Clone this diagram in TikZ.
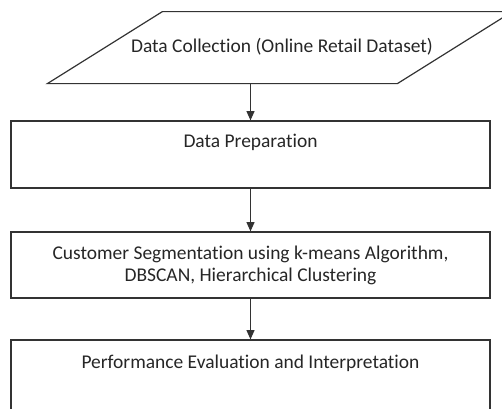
\documentclass[tikz,border=0pt]{standalone}
\usepackage{fontspec}
\setmainfont{Carlito}[Ligatures={NoCommon}]
\usetikzlibrary{positioning,arrows.meta}

\begin{document}
\begin{tikzpicture}[x=0.75pt, y=-0.75pt, >={Triangle[length=7pt,width=6pt]},
  line/.style={draw=black!80, line width=0.9pt},
  stage/.style={line, rectangle, align=center, minimum width=359.25pt,
    text=black!85, font=\fontsize{14.6}{16.5}\selectfont}]

\clip[use as bounding box] (0,0) rectangle (502,408);

% input data (parallelogram drawn round the node)
\node [stage, draw=none, minimum width=262.5pt, minimum height=54pt] (collect) at (282,47)
  {Data Collection (Online Retail Dataset)};
\draw [line] (collect.south west) ++(-59,0) -- ++(350,0) -- ++(115,-72) -- ++(-350,0) -- cycle;

\node [stage, minimum height=50.25pt] (prep) at (250.5,154.5) {Data Preparation\\[4pt]~};
\node [stage, minimum height=49.5pt] (segment) at (250.5,265)
  {Customer Segmentation using k-means Algorithm,\\DBSCAN, Hierarchical Clustering};
\node [stage, minimum height=52.5pt] (eval) at (250.5,375)
  {Performance Evaluation and Interpretation\\[4pt]~};

\draw [line, ->] (collect.south -| prep.north) -- (prep.north);
\draw [line, ->] (prep) -- (segment);
\draw [line, ->] (segment) -- (eval);

\end{tikzpicture}
\end{document}
